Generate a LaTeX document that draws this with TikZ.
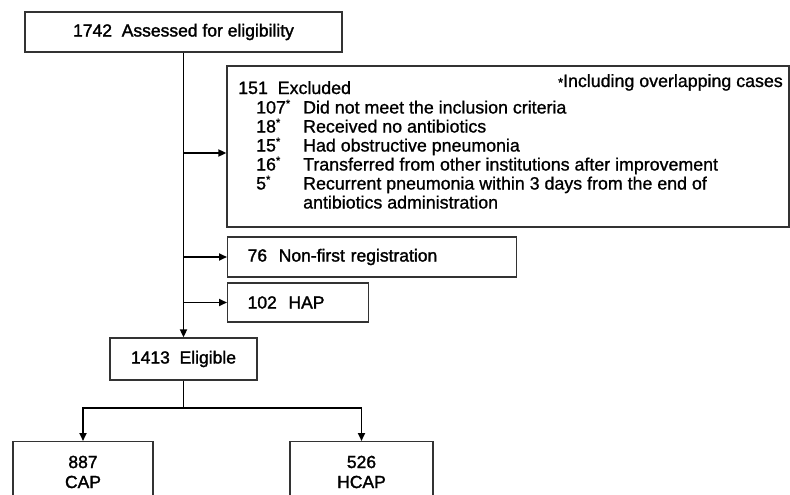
\documentclass[tikz,border=0pt]{standalone}
\usepackage{fontspec}
\setmainfont{Liberation Sans}
\newfontfamily\hvb{Liberation Sans}[FakeBold=1.6]
\newfontfamily\hvs{Liberation Sans}[FakeBold=1.0]
\newcommand{\myast}{\raisebox{0.35em}{\fontsize{11}{11}\selectfont *}}
\usetikzlibrary{arrows.meta,calc}
\begin{document}
\begin{tikzpicture}[x=1pt,y=-1pt,
  box/.style={draw=black!80,line width=1.3pt,inner sep=0pt},
  arr/.style={line width=1.8pt,-{Triangle[length=8pt,width=7pt]}},
  ln/.style={line width=1.8pt},
  big/.style={font=\hvb\fontsize{17.5}{20}\selectfont},
  small/.style={font=\hvs\fontsize{17.8}{19}\selectfont,anchor=base west,inner sep=0pt}]
\useasboundingbox (0,0) rectangle (790,495);
\clip (0,0) rectangle (790,495);
% boxes
\node[box,big,minimum width=317pt,minimum height=40pt] (top) at (183.5,32) {1742\ \ Assessed for eligibility};
\node[box,minimum width=562pt,minimum height=161pt] (excl) at (508,146.5) {};
\node[box,big,anchor=west,text width=249pt,inner xsep=20pt,minimum height=40pt,align=left] (nf) at (227,257) {76\ \ Non-first registration};
\node[box,big,anchor=west,text width=101pt,inner xsep=20pt,minimum height=39pt,align=left] (hap) at (227,302.5) {102\ \ HAP};
\node[box,big,minimum width=147pt,minimum height=42pt] (elig) at (183.5,359) {1413\ \ Eligible};
\node[box,anchor=north,minimum width=140pt,minimum height=90pt] (cap) at (83,441) {};
\node[box,anchor=north,minimum width=143pt,minimum height=90pt] (hcap) at (361.5,441) {};
\node[big,align=center,inner sep=0pt] (capt) at ($(cap.north)+(0,31)$) {887\\CAP};
\node[big,align=center,inner sep=0pt] (hcapt) at ($(hcap.north)+(0,31)$) {526\\HCAP};
% excluded text
\node[small,anchor=base east] (note) at (783,87) {{\fontsize{13}{13}\selectfont *}Including overlapping cases};
\node[small] (t0) at (238,94) {151\ \ Excluded};
\node[small] (n1) at (256,113.5) {107\myast};
\node[small] (d1) at (303,113.5) {Did not meet the inclusion criteria};
\node[small] (n2) at (256,132.5) {18\myast};
\node[small] (d2) at (303,132.5) {Received no antibiotics};
\node[small] (n3) at (256,151.5) {15\myast};
\node[small] (d3) at (303,151.5) {Had obstructive pneumonia};
\node[small] (n4) at (256,170.5) {16\myast};
\node[small] (d4) at (303,170.5) {Transferred from other institutions after improvement};
\node[small] (n5) at (256,189.5) {5\myast};
\node[small] (d5) at (303,189.5) {Recurrent pneumonia within 3 days from the end of};
\node[small] (d6) at (303,208.5) {antibiotics administration};
% connectors
\draw[arr] (top) -- (elig);
\coordinate (e1) at ($(excl.west)+(0,6.5)$);
\draw[arr] (top.south |- e1) -- (e1);
\draw[arr] (top.south |- nf.west) -- (nf.west);
\draw[arr] (top.south |- hap.west) -- (hap.west);
\coordinate (sp) at ($(elig.south)+(0,27)$);
\draw[ln] (elig) -- (sp);
\draw[arr] (sp) -| (cap);
\draw[arr] (sp) -| (hcap);
\end{tikzpicture}
\end{document}
